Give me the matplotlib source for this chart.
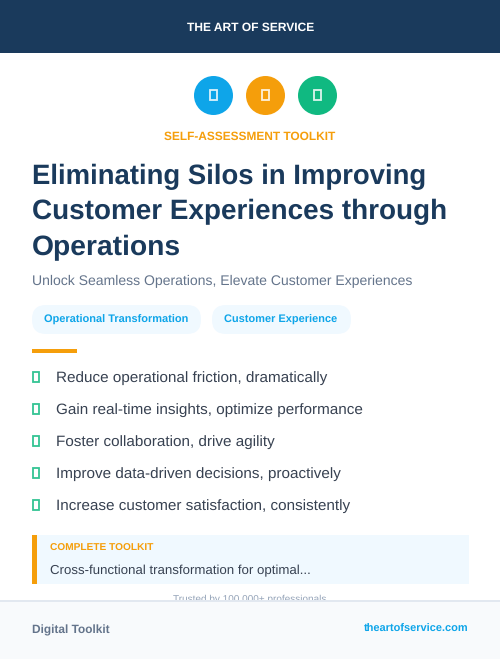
import matplotlib
matplotlib.use("Agg")
import matplotlib.pyplot as plt
from matplotlib.patches import Rectangle, Circle, FancyBboxPatch

plt.rcParams['font.family'] = ['Liberation Sans', 'DejaVu Sans']
plt.rcParams['text.hinting'] = 'no_hinting'

NAVY = '#1a3a5c'
BLUE = '#0ea5e9'
ORANGE = '#f59e0b'
GREEN = '#10b981'
SLATE = '#64748b'
DARK = '#374151'
PALE = '#f0f9ff'

brand = 'THE ART OF SERVICE'
kicker = 'SELF-ASSESSMENT TOOLKIT'
title_lines = ['Eliminating Silos in Improving', 'Customer Experiences through', 'Operations']
subtitle = 'Unlock Seamless Operations, Elevate Customer Experiences'
tags = ['Operational Transformation', 'Customer Experience']
bullets = ['Reduce operational friction, dramatically',
           'Gain real-time insights, optimize performance',
           'Foster collaboration, drive agility',
           'Improve data-driven decisions, proactively',
           'Increase customer satisfaction, consistently']
box_head = 'COMPLETE TOOLKIT'
box_text = 'Cross-functional transformation for optimal...'
trusted = 'Trusted by 100,000+ professionals'
foot_left = 'Digital Toolkit'
foot_right = 'theartofservice.com'
icon_colors = [BLUE, ORANGE, GREEN]

fig = plt.figure(figsize=(5.0, 6.59), dpi=100, facecolor='white')
ax = fig.add_axes([0, 0, 1, 1])
ax.set_xlim(0, 500)
ax.set_ylim(659, 0)
ax.axis('off')

def px(s):
    return s * 0.72

def T(x, y, s, size, color, weight='normal', ha='left', z=3):
    ax.text(x, y, s, fontsize=px(size), color=color, fontweight=weight,
            ha=ha, va='baseline', zorder=z)

def R(x, y, w, h, color, z=1, **kw):
    ax.add_patch(Rectangle((x, y), w, h, facecolor=color, edgecolor='none', zorder=z, **kw))

# header
R(0, 0, 500, 53, NAVY)
T(250.5, 31, brand, 12, 'white', 'bold', 'center')

# icons
for cx, c in zip([213.5, 265.5, 317.5], icon_colors):
    ax.add_patch(Circle((cx, 95.5), 19.5, facecolor=c, edgecolor='none', zorder=2))
    ax.add_patch(Rectangle((cx - 3.2, 90.2), 6.2, 9.8, facecolor='none',
                           edgecolor=(1, 1, 1, 0.85), linewidth=1.3, zorder=3))

T(249.3, 140, kicker, 11.95, ORANGE, 'bold', 'center')

for y, line, size in zip([184, 219, 255], title_lines, [27.5, 27.88, 28.3]):
    T(32, y, line, size, NAVY, 'bold')

T(32, 285, subtitle, 14, SLATE)

# tags
for (x, w), s in zip([(32, 169), (212, 139)], tags):
    ax.add_patch(FancyBboxPatch((x + 14, 305 + 14), w - 28, 29 - 28,
                                boxstyle='round,pad=14,rounding_size=14',
                                facecolor=PALE, edgecolor='none', zorder=1))
    T(x + 12, 322.5, s, 10.95, BLUE, 'bold')

# accent
R(32, 349, 45, 4, ORANGE)

# bullets
for y, s in zip([382, 414, 446, 478, 510], bullets):
    ax.add_patch(Rectangle((33, y - 10), 6.2, 10.2, facecolor='none', edgecolor=GREEN,
                           linewidth=1.3, alpha=0.85, zorder=2))
    T(56, y, s, 15.2, DARK)

# box
R(32, 535, 437, 49, PALE)
R(32, 535, 5, 49, ORANGE, z=2)
T(50, 551, box_head, 10.1, ORANGE, 'bold')
T(50, 574, box_text, 13.2, DARK)

T(250, 602, trusted, 10, '#94a3b8', ha='center', z=2)

# footer
R(0, 601, 500, 58, '#f8fafc', z=4)
R(0, 599.5, 500, 2, '#e2e8f0', z=5)
T(32, 633, foot_left, 11.9, SLATE, 'bold', z=6)
T(468, 632, foot_right, 11.05, BLUE, 'bold', 'right', z=6)

fig.savefig('out.png', dpi=100, facecolor='white')
